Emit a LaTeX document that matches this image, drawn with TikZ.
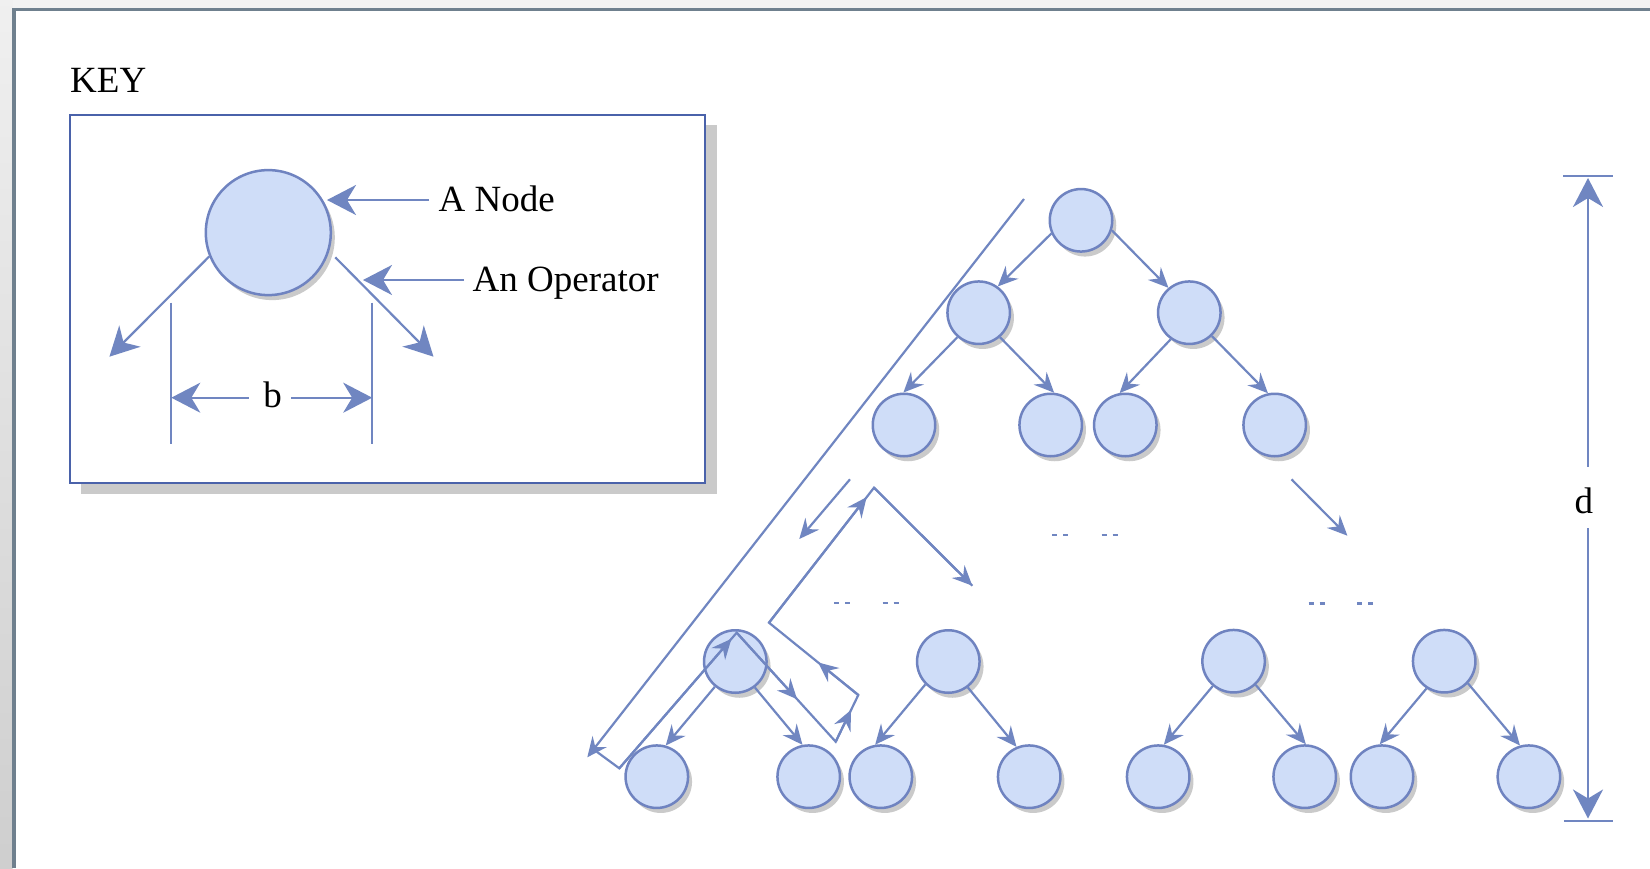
\documentclass[tikz,border=0pt]{standalone}
\usepackage{fontspec}
\setmainfont{Liberation Serif}
\usetikzlibrary{arrows.meta,shadows,calc}
\definecolor{lineblue}{HTML}{7086C1}
\definecolor{nodeline}{HTML}{6F83C0}
\definecolor{nodefill}{HTML}{CFDDF8}
\definecolor{boxblue}{HTML}{4A62AA}
\definecolor{shadowgray}{HTML}{CACACA}
\definecolor{framegray}{HTML}{6F808E}
\begin{document}
\begin{tikzpicture}[x=1pt,y=-1pt,
  tnode/.style={circle, draw=nodeline, line width=2.5pt, fill=nodefill, minimum size=#1, inner sep=0pt,
    drop shadow={shadow xshift=4pt, shadow yshift=-5pt, opacity=1, fill=shadowgray}},
  tnode/.default=62.5pt,
  ln/.style={draw=lineblue, line width=2.2pt},
  arr/.style={ln, -{Stealth[length=20pt,width=18pt,inset=7pt]}},
  karr/.style={ln, -{Stealth[length=29pt,width=30pt,inset=9pt]}},
  lbl/.style={inner sep=0pt, font=\fontsize{37}{44}\selectfont},
  dots/.style={draw=lineblue, line width=2.3pt, dash pattern=on 5pt off 6pt}
]
% background and frame
\useasboundingbox (0,0) rectangle (1650,868);
\fill[white] (0,0) rectangle (1650,868);
\fill[black!5] (0,0) rectangle (1650,8);
\shade[top color=black!6, bottom color=black!19] (0,0) rectangle (12.5,868);
\fill[framegray] (12.3,7.5) rectangle (1650,11);
\fill[framegray] (12.3,7.5) rectangle (16.3,868);

% ---------- key ----------
\node[lbl, anchor=base west] (keyt) at (70,92) {KEY};
\fill[shadowgray] (81,125) rectangle (716.5,494);
\draw[boxblue, line width=2pt, fill=white] (70,115) rectangle (705,482.5);

\node[tnode=125pt] (kc) at (268.3,232.6) {};
\coordinate (ko1) at (109.4,356.7);
\coordinate (ko2) at (433.5,356.7);
\draw[karr] (kc.202) -- (ko1);
\draw[karr, shorten <=8.5pt] (kc.343.5) -- (ko2);

\node[lbl, anchor=base west] (anode) at (438.5,211.5) {A Node};
\node[lbl, anchor=base west] (aop) at (472.5,291) {An Operator};
\coordinate (na1) at (429,200);
\coordinate (na2) at (327,200);
\coordinate (op1) at (464,280);
\coordinate (op2) at (363,280);
\draw[karr] (na1) -- (na2);
\draw[karr] (op1) -- (op2);

\coordinate (tL1) at (171.3,302.7);
\coordinate (tL2) at (171.3,444);
\coordinate (tR1) at (372.2,302.7);
\coordinate (tR2) at (372.2,444);
\draw[ln] (tL1) -- (tL2);
\draw[ln] (tR1) -- (tR2);
\node[lbl, anchor=base] (btxt) at (272.7,407) {b};
\coordinate (bA) at (248.8,397.7);
\coordinate (bL) at (171.3,397.7);
\coordinate (bB) at (291,397.7);
\coordinate (bR) at (372.2,397.7);
\draw[karr] (bA) -- (bL);
\draw[karr] (bB) -- (bR);

% ---------- depth d ----------
\node[lbl, anchor=base] (dtxt) at (1583.8,513.5) {d};
\coordinate (dbar1) at (1563.3,175.7);
\coordinate (dbar2) at (1613.3,175.7);
\coordinate (dbar3) at (1563.8,821);
\coordinate (dbar4) at (1612.8,821);
\draw[ln] (dbar1) -- (dbar2);
\draw[ln] (dbar3) -- (dbar4);
\coordinate (d1) at (1588,466.7);
\coordinate (dT) at (1588,178);
\coordinate (d2) at (1588,528.3);
\coordinate (dB) at (1588,818.5);
\draw[karr] (d1) -- (dT);
\draw[karr] (d2) -- (dB);

% ---------- top tree ----------
\node[tnode] (root) at (1081,220.3) {};
\node[tnode] (L) at (978.7,312.7) {};
\node[tnode] (R) at (1189.3,312.7) {};
\node[tnode] (LL) at (904,425) {};
\node[tnode] (LR) at (1050.7,425) {};
\node[tnode] (RL) at (1125.3,425) {};
\node[tnode] (RR) at (1274.7,425) {};
\draw[arr] (root.204) -- (L.54);
\draw[arr] (root.342) -- (R.130);
\draw[arr] (L.229) -- (LL.91);
\draw[arr] (L.311) -- (LR.84);
\draw[arr] (R.235) -- (RL.100);
\draw[arr] (R.314) -- (RR.102);

% ---------- bottom subtrees ----------
\node[tnode] (S1) at (735.3,661.5) {};
\node[tnode] (S2) at (948.3,661.5) {};
\node[tnode] (S3) at (1233.6,661.2) {};
\node[tnode] (S4) at (1444.2,661.2) {};
\node[tnode] (C1) at (656.8,776.7) {};
\node[tnode] (C2) at (808.7,776.7) {};
\node[tnode] (C3) at (880.8,776.7) {};
\node[tnode] (C4) at (1029.2,776.7) {};
\node[tnode] (C5) at (1158.2,776.7) {};
\node[tnode] (C6) at (1304.7,776.7) {};
\node[tnode] (C7) at (1382,776.7) {};
\node[tnode] (C8) at (1528.9,776.7) {};
\draw[arr] (S1.231) -- (C1.74);
\draw[arr] (S1.307) -- (C2.101);
\draw[arr] (S2.225) -- (C3.100);
\draw[arr] (S2.307) -- (C4.113);
\draw[arr] (S3.230) -- (C5.80);
\draw[arr] (S3.313) -- (C6.88);
\draw[arr] (S4.237) -- (C7.94);
\draw[arr] (S4.317) -- (C8.106);

% ---------- elided levels ----------
\draw[dots] (834.3,602.7) -- (851,602.7);
\draw[dots] (882.7,602.7) -- (899,602.7);
\draw[dots] (1052,534.8) -- (1068.5,534.8);
\draw[dots] (1101.6,534.8) -- (1118,534.8);
\draw[dots] (1308.5,603.5) -- (1325,603.5);
\draw[dots] (1357.4,603.5) -- (1374,603.5);

\coordinate (Q1) at (850,479.3);
\coordinate (Q2) at (799.3,539);
\draw[arr] (Q1) -- (Q2);
\coordinate (Q3) at (1291.5,479.3);
\coordinate (Q4) at (1347.4,535.7);
\draw[arr] (Q3) -- (Q4);

% ---------- traversal path ----------
\coordinate (P0) at (1024,199);
\coordinate (P1) at (587.3,757.3);
\coordinate (P1b) at (596.7,751.7);
\coordinate (P2) at (619.3,768.3);
\coordinate (P3) at (736.7,632.7);
\coordinate (P4) at (835.7,741.7);
\coordinate (P5) at (858.3,695);
\coordinate (P6) at (769,622.7);
\coordinate (P7) at (874,487.7);
\coordinate (P8) at (972.3,585.7);
\draw[arr] (P0) -- (P1);
\draw[ln, line join=miter] (P1b) -- (P2) -- (P3) -- (P4) -- (P5) -- (P6) -- (P7) -- (P8);
\draw[arr] (P7) -- (P8);
\draw[arr] (P2) -- ($(P2)!0.955!(P3)$);
\draw[arr] (P3) -- ($(P3)!0.61!(P4)$);
\draw[arr] (P4) -- ($(P4)!0.68!(P5)$);
\draw[arr] (P5) -- ($(P5)!0.45!(P6)$);
\draw[arr] (P6) -- ($(P6)!0.93!(P7)$);
\end{tikzpicture}
\end{document}
